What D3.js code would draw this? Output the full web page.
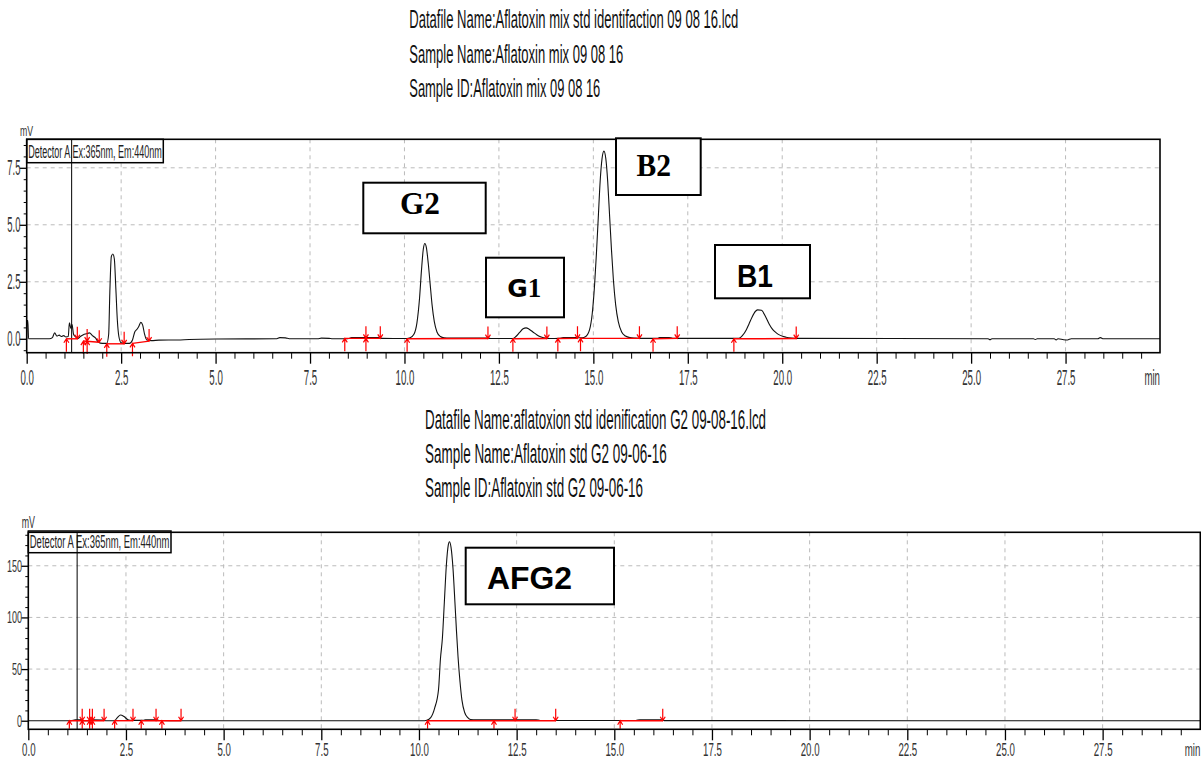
<!doctype html>
<html>
<head>
<meta charset="utf-8">
<title>Aflatoxin chromatograms</title>
<script src="https://cdn.jsdelivr.net/npm/d3@7/dist/d3.min.js"></script>
<style>
  body { margin: 0; background: #fff; }
  svg { display: block; }
</style>
</head>
<body>
<svg id="chart" width="1201" height="760"></svg>
<script>
// values
var topTitles = ["Datafile Name:Aflatoxin mix std identifaction 09 08 16.lcd",
                 "Sample Name:Aflatoxin mix 09 08 16",
                 "Sample ID:Aflatoxin mix 09 08 16"];
var bottomTitles = ["Datafile Name:aflatoxion std idenification G2 09-08-16.lcd",
                    "Sample Name:Aflatoxin std G2 09-06-16",
                    "Sample ID:Aflatoxin std G2 09-06-16"];
var detectorText = "Detector A Ex:365nm, Em:440nm";

var xTicks = [0, 2.5, 5, 7.5, 10, 12.5, 15, 17.5, 20, 22.5, 25, 27.5];
var topYTicks = [0, 2.5, 5, 7.5];
var bottomYTicks = [0, 50, 100, 150];

// [min, mV]
var topTrace = [
  [0, 0], [0.01, 0.8], [0.03, 0.8], [0.05, 0], [0.6, 0], [0.68, 0.05], [0.74, 0.26], [0.8, 0.12],
  [0.86, 0.16], [0.92, 0.1], [0.98, 0.14], [1.04, 0.08], [1.1, 0.1], [1.13, 0.7], [1.17, 0.45],
  [1.2, 0.62], [1.24, 0.2], [1.3, 0.08], [1.36, 0.02], [1.42, 0.1], [1.5, 0.18], [1.58, 0.22],
  [1.66, 0.26], [1.74, 0.14], [1.82, 0.04], [1.9, -0.15], [2.0, -0.2], [2.12, -0.2], [2.17, 0.2],
  [2.2, 2.0], [2.24, 3.6], [2.28, 3.72], [2.32, 3.5], [2.36, 2.2], [2.4, 0.8], [2.44, 0.1],
  [2.5, -0.18], [2.6, -0.2], [2.72, -0.2], [2.8, -0.05], [2.86, 0.3], [2.92, 0.42], [2.97, 0.55],
  [3.02, 0.72], [3.07, 0.6], [3.12, 0.2], [3.18, -0.05], [3.3, -0.08], [3.5, -0.06], [4.0, -0.05],
  [4.3, -0.03], [5.0, -0.01], [6.6, 0], [6.7, 0.05], [6.85, 0.04], [6.95, 0], [7.7, 0], [7.8, 0.03],
  [8.0, 0.02], [8.1, 0], [8.5, 0], [8.6, 0.06], [9.3, 0.06], [9.4, 0.02], [10.0, 0.01], [10.15, 0.05],
  [10.25, 0.2], [10.33, 0.7], [10.4, 1.8], [10.45, 3.0], [10.5, 3.95], [10.54, 4.18], [10.58, 4.0],
  [10.63, 3.3], [10.68, 2.4], [10.73, 1.5], [10.79, 0.75], [10.86, 0.3], [10.95, 0.1], [11.05, 0.04],
  [11.2, 0.03], [12.2, 0.03], [12.3, 0.01], [12.87, 0.01], [12.95, 0.1], [13.05, 0.28], [13.14, 0.44],
  [13.22, 0.48], [13.3, 0.42], [13.4, 0.3], [13.5, 0.18], [13.6, 0.09], [13.72, 0.03], [13.85, 0.01],
  [14.1, 0.02], [14.2, 0.05], [14.55, 0.05], [14.7, 0.04], [14.8, 0.1], [14.9, 0.4], [14.97, 1.1],
  [15.03, 2.3], [15.08, 3.7], [15.13, 5.3], [15.18, 6.9], [15.23, 7.9], [15.28, 8.23], [15.33, 7.9],
  [15.38, 6.9], [15.43, 5.4], [15.48, 3.9], [15.53, 2.6], [15.59, 1.5], [15.66, 0.75], [15.75, 0.3],
  [15.85, 0.12], [15.97, 0.05], [16.1, 0.03], [16.3, 0.02], [16.7, 0.02], [16.75, 0.06], [17.0, 0.06],
  [17.1, 0.02], [18.85, 0.02], [18.95, 0.15], [19.05, 0.4], [19.12, 0.65], [19.2, 0.95], [19.3, 1.22],
  [19.35, 1.27], [19.45, 1.25], [19.55, 1.0], [19.66, 0.63], [19.75, 0.4], [19.85, 0.25], [19.95, 0.15],
  [20.1, 0.07], [20.24, 0.03], [20.4, 0.02], [25.45, 0], [25.5, -0.04], [25.55, 0], [26.65, 0],
  [26.7, -0.03], [26.75, 0], [27.2, 0], [27.25, -0.05], [27.3, 0], [27.45, -0.04], [27.55, -0.05],
  [27.65, 0], [28.35, 0], [28.42, 0.05], [28.5, 0], [30, 0]
];
var bottomTrace = [
  [0, 0], [1.1, 0], [1.2, 0.8], [1.35, 0.8], [1.4, 0], [1.6, 0], [1.65, 0.8], [1.9, 0.6], [2.0, 0],
  [2.2, 0], [2.28, 3], [2.36, 5.5], [2.45, 4], [2.55, 1], [2.65, 0.3], [2.95, 0.3], [3.0, 1], [3.3, 1],
  [3.35, 0.2], [3.9, 0], [10.1, 0], [10.2, 0.5], [10.3, 3], [10.4, 12], [10.5, 30], [10.55, 60],
  [10.6, 80], [10.65, 115], [10.7, 150], [10.75, 170], [10.78, 173.3], [10.82, 168], [10.87, 148],
  [10.92, 115], [10.96, 87], [11.0, 62], [11.05, 38], [11.1, 20], [11.17, 8], [11.25, 3], [11.32, 1.2],
  [11.45, 1], [13.0, 1], [13.1, 0.2], [15.55, 0.2], [15.65, 1], [16.2, 1], [16.3, 0.1], [30, 0]
];

// integration baselines [t0, v0, t1, v1] and peak start / end marks [t, v]
var topBaselines = [[1.05, 0, 1.34, 0], [1.5, -0.1, 1.92, -0.15], [2.12, -0.22, 2.58, -0.22],
  [2.8, -0.2, 3.24, -0.1], [8.42, 0.02, 9.36, 0.02], [10.07, 0, 12.21, 0.01], [12.87, 0, 13.77, 0.01],
  [14.06, 0.01, 14.58, 0.02], [14.66, 0.02, 16.22, 0.02], [16.58, 0, 17.22, 0.02], [18.72, 0, 20.37, 0.01]];
var topStarts = [[1.05, 0], [1.5, -0.1], [1.6, -0.1], [2.12, -0.22], [2.8, -0.2], [8.42, 0.02], [8.98, 0.02],
  [10.07, 0], [12.87, 0], [14.06, 0.01], [14.66, 0.02], [16.58, 0], [18.72, 0]];
var topEnds = [[1.34, 0], [1.6, -0.1], [1.92, -0.15], [2.58, -0.22], [3.24, -0.1], [8.98, 0.02], [9.36, 0.02],
  [12.21, 0.01], [13.77, 0.01], [14.58, 0.02], [16.22, 0.02], [17.22, 0.02], [20.37, 0.01]];

var bottomBaselines = [[1.05, 0, 1.94, 0], [2.21, 0, 2.68, 0], [2.89, 0, 3.91, 0], [10.22, 0, 13.5, 0], [15.15, 0, 16.24, 0]];
var bottomStarts = [[1.05, 0], [1.38, 0], [1.57, 0], [1.64, 0], [2.21, 0], [2.89, 0], [3.42, 0], [10.22, 0], [11.92, 0], [15.15, 0]];
var bottomEnds = [[1.38, 0], [1.57, 0], [1.64, 0], [1.94, 0], [2.68, 0], [3.27, 0], [3.91, 0], [12.46, 0], [13.5, 0], [16.24, 0]];

var SANS = "'Liberation Sans', Arial, sans-serif";
var SERIF = "'Liberation Serif', 'Times New Roman', serif";

var svg = d3.select("#chart");

function fitText(str, x, y, size, len, opts) {
  opts = opts || {};
  var t = svg.append("text")
    .attr("x", x).attr("y", y)
    .attr("textLength", len).attr("lengthAdjust", "spacingAndGlyphs")
    .style("font-family", opts.family || SANS)
    .style("font-size", size + "px")
    .style("font-weight", opts.weight || "normal")
    .attr("fill", opts.fill || "#111")
    .text(str);
  return t;
}

function squeezed(str, x, y, size, sx, anchor) {
  svg.append("text")
    .attr("transform", "translate(" + x + "," + y + ") scale(" + sx + ",1)")
    .attr("text-anchor", anchor)
    .style("font-family", SANS).style("font-size", size + "px")
    .attr("fill", "#333")
    .text(str);
}

function drawPanel(p) {
  var x = d3.scaleLinear().domain([0, 30]).range([p.left, p.right]);
  var y = d3.scaleLinear().domain(p.yDomain).range([p.bottom, p.top]);
  var g = svg.append("g");

  // dashed grid
  g.selectAll(".vg").data(xTicks.filter(function (d) { return d > 0; })).enter().append("line")
    .attr("x1", x).attr("x2", x).attr("y1", p.top).attr("y2", p.bottom)
    .attr("stroke", "#bbb").attr("stroke-dasharray", "4,4");
  g.selectAll(".hg").data(p.yTicks.filter(function (d) { return d > 0; })).enter().append("line")
    .attr("x1", p.left).attr("x2", p.right).attr("y1", y).attr("y2", y)
    .attr("stroke", "#bbb").attr("stroke-dasharray", "4,4");

  // detector box
  g.append("rect").attr("x", p.left).attr("y", p.boxTop)
    .attr("width", p.boxRight - p.left).attr("height", p.boxBottom - p.boxTop)
    .attr("fill", "#fff").attr("stroke", "#000").attr("stroke-width", 1.5);
  g.append("text").attr("x", p.left + 1.5).attr("y", p.boxBottom - 4.4)
    .attr("textLength", p.boxRight - p.left - 3).attr("lengthAdjust", "spacingAndGlyphs")
    .style("font-family", SANS).style("font-size", "18px").attr("fill", "#222")
    .text(detectorText);

  // marker line
  g.append("line").attr("x1", x(p.markerT)).attr("x2", x(p.markerT))
    .attr("y1", p.top).attr("y2", p.bottom).attr("stroke", "#000").attr("stroke-width", 1);

  var clipId = "clip" + p.id;
  svg.append("clipPath").attr("id", clipId).append("rect")
    .attr("x", p.left).attr("y", p.top).attr("width", p.right - p.left).attr("height", p.bottom - p.top);

  var line = d3.line().x(function (d) { return x(d[0]); }).y(function (d) { return y(d[1]); })
    .curve(d3.curveMonotoneX);
  g.append("path").datum(p.trace).attr("d", line).attr("clip-path", "url(#" + clipId + ")")
    .attr("fill", "none").attr("stroke", "#111").attr("stroke-width", 1.1);

  // integration baselines
  g.selectAll(".bl").data(p.baselines).enter().append("line")
    .attr("x1", function (d) { return x(d[0]); }).attr("y1", function (d) { return y(d[1]); })
    .attr("x2", function (d) { return x(d[2]); }).attr("y2", function (d) { return y(d[3]); })
    .attr("stroke", "#ff0000").attr("stroke-width", 1.4);

  // start marks (arrow up, tail below) and end marks (arrow down, tail above)
  g.selectAll(".st").data(p.starts).enter().append("path")
    .attr("d", function (d) {
      var px = x(d[0]), py = y(d[1]);
      return "M" + px + "," + (py + p.upLen) + "V" + py + "M" + (px - 2.5) + "," + (py + 4) + "L" + px + "," + py + "L" + (px + 2.5) + "," + (py + 4);
    })
    .attr("fill", "none").attr("stroke", "#ff0000").attr("stroke-width", 1.2);
  g.selectAll(".en").data(p.ends).enter().append("path")
    .attr("d", function (d) {
      var px = x(d[0]), py = y(d[1]);
      return "M" + px + "," + (py - 12) + "V" + py + "M" + (px - 2.5) + "," + (py - 4) + "L" + px + "," + py + "L" + (px + 2.5) + "," + (py - 4);
    })
    .attr("fill", "none").attr("stroke", "#ff0000").attr("stroke-width", 1.2);

  // frame
  g.append("rect").attr("x", p.left).attr("y", p.top)
    .attr("width", p.right - p.left).attr("height", p.bottom - p.top)
    .attr("fill", "none").attr("stroke", "#000").attr("stroke-width", 1.6);

  // x axis: major and minor ticks
  var minorX = d3.range(0, 30.001, 0.5).filter(function (d) { return xTicks.indexOf(d) < 0 && d < 30; });
  var ax = g.append("g").attr("transform", "translate(0," + p.bottom + ")")
    .call(d3.axisBottom(x).tickValues(xTicks).tickSize(11).tickPadding(p.xPad).tickFormat(d3.format(".1f")));
  ax.select(".domain").remove();
  ax.selectAll(".tick line").attr("stroke", "#000").attr("stroke-width", 1.3);
  ax.selectAll(".tick text").attr("transform", "scale(" + p.xSx + ",1)")
    .style("font-family", SANS).style("font-size", p.xFont + "px").attr("fill", "#333");
  var axm = g.append("g").attr("transform", "translate(0," + p.bottom + ")")
    .call(d3.axisBottom(x).tickValues(minorX).tickSize(6).tickFormat(""));
  axm.select(".domain").remove();
  axm.selectAll(".tick line").attr("stroke", "#000");

  // y axis
  var minorY = d3.range(p.yMinor[0], p.yMinor[1] + 1e-6, p.yMinor[2])
    .filter(function (d) { return p.yTicks.indexOf(+d.toFixed(3)) < 0; });
  var ay = g.append("g").attr("transform", "translate(" + p.left + ",0)")
    .call(d3.axisLeft(y).tickValues(p.yTicks).tickSize(7).tickPadding(0).tickFormat(d3.format(p.yFormat)));
  ay.select(".domain").remove();
  ay.selectAll(".tick line").attr("stroke", "#000").attr("stroke-width", 1.3);
  ay.selectAll(".tick text").attr("x", -(p.left - p.yLabelRight) / p.ySx).attr("transform", "scale(" + p.ySx + ",1)")
    .style("font-family", SANS).style("font-size", p.yFont + "px").attr("fill", "#333");
  var aym = g.append("g").attr("transform", "translate(" + p.left + ",0)")
    .call(d3.axisLeft(y).tickValues(minorY).tickSize(3).tickFormat(""));
  aym.select(".domain").remove();
  aym.selectAll(".tick line").attr("stroke", "#000");

  squeezed("mV", p.mvX, p.mvY, p.mvFont, p.mvSx, "start");
  squeezed("min", p.right, p.bottom + p.minDy, p.xFont, p.xSx, "end");

  // titles
  p.titles.forEach(function (s, i) {
    fitText(s, p.titleX, p.titleBase[i], p.titleFont, p.titleLen[i]);
  });
}

drawPanel({
  id: "t", left: 26.7, right: 1160, top: 139.3, bottom: 352.7,
  yDomain: [-0.61, 8.75], yTicks: topYTicks, yMinor: [-0.5, 8.5, 0.5], yFormat: ".1f",
  yFont: 22, ySx: 0.43, yLabelRight: 20.5,
  xFont: 22, xSx: 0.44, xPad: 6, minDy: 32.5,
  boxTop: 139.3, boxBottom: 162.7, boxRight: 163.3, markerT: 1.19,
  trace: topTrace, baselines: topBaselines, starts: topStarts, ends: topEnds, upLen: 13,
  mvX: 20, mvY: 136, mvFont: 15, mvSx: 0.58,
  titles: topTitles, titleX: 409.3, titleBase: [28.3, 63.3, 96.7], titleFont: 25.5, titleLen: [329, 214, 191]
});

drawPanel({
  id: "b", left: 28.3, right: 1200.3, top: 532.3, bottom: 729.3,
  yDomain: [-8.3, 182.4], yTicks: bottomYTicks, yMinor: [-0, 180, 10], yFormat: "d",
  yFont: 17, ySx: 0.53, yLabelRight: 22,
  xFont: 18, xSx: 0.538, xPad: 3, minDy: 26.7,
  boxTop: 531, boxBottom: 552.7, boxRight: 171, markerT: 1.25,
  trace: bottomTrace, baselines: bottomBaselines, starts: bottomStarts, ends: bottomEnds, upLen: 8,
  mvX: 21.7, mvY: 528.3, mvFont: 17, mvSx: 0.52,
  titles: bottomTitles, titleX: 425, titleBase: [429.3, 463, 496.7], titleFont: 28, titleLen: [341, 241.7, 218]
});

// peak name boxes
var peakBoxes = [
  { x0: 363.3, y0: 182.7, x1: 485.7, y1: 233.3, parts: [{ t: "G2", f: SERIF, s: 31 }], tx: 400, ty: 214, len: 40 },
  { x0: 616, y0: 138.3, x1: 700.7, y1: 195, parts: [{ t: "B2", f: SERIF, s: 31 }], tx: 636.5, ty: 176, len: 34.5 },
  { x0: 486, y0: 257.7, x1: 564, y1: 317.3, parts: [{ t: "G", f: "'DejaVu Sans', sans-serif", s: 25 }, { t: "1", f: SERIF, s: 27 }], tx: 507.3, ty: 296.7 },
  { x0: 715, y0: 245, x1: 810, y1: 298.3, parts: [{ t: "B1", f: SANS, s: 32 }], tx: 737, ty: 286.7, len: 36 },
  { x0: 465.7, y0: 547.7, x1: 614, y1: 604.3, parts: [{ t: "AFG2", f: SANS, s: 32 }], tx: 487, ty: 589.3, len: 85 }
];
peakBoxes.forEach(function (b) {
  svg.append("rect").attr("x", b.x0).attr("y", b.y0).attr("width", b.x1 - b.x0).attr("height", b.y1 - b.y0)
    .attr("fill", "#fff").attr("stroke", "#000").attr("stroke-width", 2);
  var t = svg.append("text").attr("x", b.tx).attr("y", b.ty).attr("fill", "#000").style("font-weight", "bold");
  if (b.len) t.attr("textLength", b.len).attr("lengthAdjust", "spacingAndGlyphs");
  b.parts.forEach(function (q) {
    t.append("tspan").style("font-family", q.f).style("font-size", q.s + "px").text(q.t);
  });
});
</script>
</body>
</html>
